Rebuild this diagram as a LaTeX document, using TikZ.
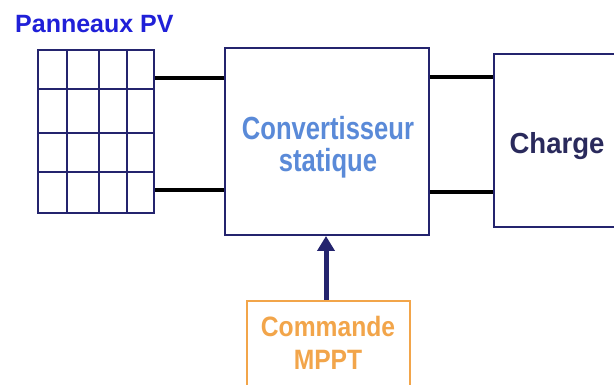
\documentclass[tikz,border=0pt]{standalone}
\usepackage{fontspec}
\setmainfont{Liberation Sans}
\newfontfamily\condA[FakeStretch=0.80]{Liberation Sans}
\newfontfamily\condB[FakeStretch=0.88]{Liberation Sans}
\newfontfamily\condC[FakeStretch=0.95]{Liberation Sans}
\usetikzlibrary{arrows.meta}
\definecolor{navy}{HTML}{24246E}
\definecolor{pvblue}{HTML}{2020D8}
\definecolor{convblue}{HTML}{5A8AD8}
\definecolor{chargec}{HTML}{2A2A5C}
\definecolor{mpptor}{HTML}{F2A54A}
\tikzset{
  blockbox/.style={draw=navy,line width=2pt,fill=white,inner sep=0pt},
  wire/.style={line width=4.5pt,black},
  gridline/.style={draw=navy,line width=2pt},
  txt/.style={inner sep=0pt,anchor=base},
}
\begin{document}
\begin{tikzpicture}[x=1pt,y=1pt]
\useasboundingbox (0,0) rectangle (614,-385);
\clip (0,0) rectangle (614,-385);
\fill[white] (0,0) rectangle (614,-385);
% title
\node[txt,text=pvblue,font=\bfseries\fontsize{25}{28}\selectfont,anchor=base west] (title) at (15,-33) {Panneaux PV};
% PV grid
\node[blockbox,minimum width=116pt,minimum height=163pt] (pv) at (96,-131.5) {};
\foreach \x in {67,99,127} \draw[gridline] (\x,-50) -- (\x,-213);
\foreach \y in {89,133,172} \draw[gridline] (38,-\y) -- (154,-\y);
% converter
\node[blockbox,minimum width=204pt,minimum height=187pt] (conv) at (327,-141.5) {};
\node[txt,text=convblue,font=\condA\bfseries\fontsize{32}{32}\selectfont] (conv1) at (328,-140) {Convertisseur};
\node[txt,text=convblue,font=\condA\bfseries\fontsize{32}{32}\selectfont] (conv2) at (328,-172) {statique};
% charge
\node[blockbox,minimum width=126pt,minimum height=173pt] (charge) at (557,-140.5) {};
\node[txt,text=chargec,font=\condC\bfseries\fontsize{29}{30}\selectfont] (chargetxt) at (557,-154) {Charge};
% MPPT
\node[draw=mpptor,line width=2pt,fill=white,minimum width=163pt,minimum height=90pt,inner sep=0pt] (mppt) at (328.5,-346) {};
\node[txt,text=mpptor,font=\condB\bfseries\fontsize{28}{30}\selectfont] (mppt1) at (328,-337) {Commande};
\node[txt,text=mpptor,font=\condB\bfseries\fontsize{28}{30}\selectfont] (mppt2) at (328,-370) {MPPT};
% wires
\coordinate (w1) at (0,-78);
\coordinate (w2) at (0,-190);
\coordinate (w3) at (0,-77);
\coordinate (w4) at (0,-192);
\draw[wire] (pv.east |- w1) -- (conv.west |- w1);
\draw[wire] (pv.east |- w2) -- (conv.west |- w2);
\draw[wire] (conv.east |- w3) -- (charge.west |- w3);
\draw[wire] (conv.east |- w4) -- (charge.west |- w4);
% arrow
\coordinate (ax) at (326,0);
\draw[navy,line width=5pt,-{Triangle[width=17pt,length=15pt]}] (mppt.north -| ax) -- (conv.south -| ax);
\end{tikzpicture}
\end{document}
